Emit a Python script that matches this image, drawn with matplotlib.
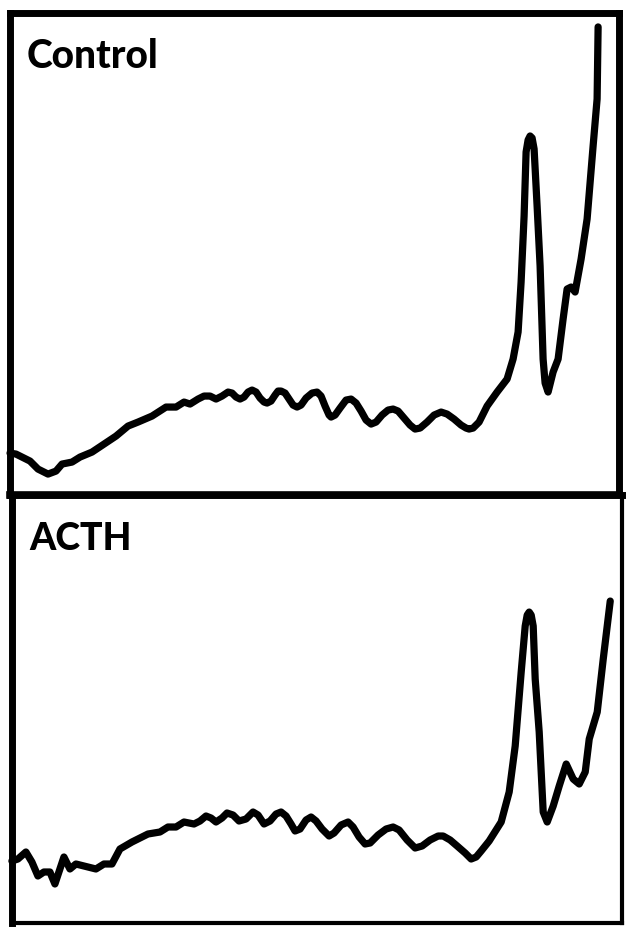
import numpy as np
import matplotlib
matplotlib.use("Agg")
import matplotlib.pyplot as plt

# x = position along the trace, y = height above panel floor
control_x = [0, 6, 20, 28, 38, 46, 52, 62, 70, 82, 94, 106, 118, 128, 142, 156,
             166, 174, 180, 188, 194, 200, 206, 212, 218, 222, 226, 230, 234, 238,
             242, 246, 250, 254, 257, 261, 265, 268, 271, 275, 279, 283, 287, 291,
             296, 302, 307, 311, 315, 319, 321, 325, 330, 336, 341, 346, 351, 356,
             361, 366, 372, 378, 383, 388, 394, 400, 405, 410, 417, 424, 431, 437,
             444, 451, 456, 459, 463, 469, 477, 487, 497, 503, 508, 511, 514, 516,
             518, 520, 522, 524, 527, 530, 533, 535, 538, 543, 548, 553, 557, 561,
             565, 571, 577, 583, 587, 588]
control_y = [42, 41, 34, 26, 21, 24, 31, 33, 38, 43, 51, 59, 69, 73, 79, 88,
             88, 93, 91, 96, 99, 99, 96, 99, 103, 102, 98, 96, 98, 103,
             105, 103, 97, 93, 92, 94, 100, 104, 104, 102, 96, 90, 88, 90,
             97, 102, 103, 99, 89, 80, 78, 80, 87, 95, 96, 92, 84, 75,
             71, 73, 80, 85, 86, 84, 77, 70, 66, 67, 73, 80, 83, 81,
             76, 70, 67, 66, 67, 73, 89, 103, 116, 136, 163, 213, 279, 343,
             355, 359, 357, 346, 289, 229, 136, 112, 103, 123, 136, 176, 206, 208,
             203, 236, 276, 349, 396, 468]

acth_x = [2, 8, 16, 22, 28, 34, 40, 45, 50, 54, 60, 66, 74, 86, 94, 102,
          110, 122, 138, 150, 158, 166, 174, 184, 190, 196, 201, 206, 212, 217,
          223, 229, 236, 243, 248, 254, 260, 266, 271, 276, 281, 285, 290, 296,
          301, 306, 312, 319, 324, 331, 338, 343, 349, 355, 360, 368, 376, 383,
          389, 397, 405, 412, 420, 428, 433, 440, 447, 455, 461, 466, 471, 479,
          491, 499, 505, 511, 515, 517, 519, 521, 523, 525, 529, 533, 537, 543,
          549, 556, 563, 569, 575, 579, 587, 593, 600]
acth_y = [62, 64, 71, 61, 47, 51, 51, 39, 54, 66, 54, 59, 57, 54, 59, 59,
          74, 81, 89, 91, 96, 96, 101, 99, 102, 107, 105, 101, 105, 110,
          108, 102, 104, 111, 108, 99, 102, 109, 111, 107, 99, 92, 94, 103,
          106, 102, 94, 87, 90, 98, 101, 96, 86, 79, 80, 88, 94, 96,
          93, 83, 75, 77, 83, 87, 87, 83, 77, 70, 64, 66, 72, 82,
          101, 131, 177, 251, 297, 308, 311, 308, 297, 244, 191, 111, 101, 117,
          137, 159, 144, 139, 151, 184, 211, 264, 322]

panels = [
    # label, xs, ys, axes rect, x range, y height, right/bottom spine width, font size
    ("Control", control_x, control_y, [0.016, 0.466, 0.973, 0.519], (0, 609), 482, 5.0, 28),
    ("ACTH", acth_x, acth_y, [0.019, 0.0054, 0.975, 0.4606], (2, 612), 428, 3.0, 27),
]

fig = plt.figure(figsize=(6.26, 9.29), dpi=100)
fig.patch.set_facecolor("white")

for label, xs, ys, rect, xr, h, thin, fs in panels:
    ax = fig.add_axes(rect)
    ax.plot(xs, ys, color="black", lw=5.2, solid_joinstyle="round",
            solid_capstyle="round", clip_on=False)
    ax.set_xlim(*xr)
    ax.set_ylim(0, h)
    ax.set_xticks([])
    ax.set_yticks([])
    for side in ["left", "top"]:
        ax.spines[side].set_linewidth(5.0)
    ax.spines["right"].set_linewidth(thin)
    ax.spines["bottom"].set_linewidth(thin)
    if label == "Control":
        ax.spines["bottom"].set_linewidth(5.5)
    ax.text(xr[0] + 17, h - 54, label, fontsize=fs, fontweight=900,
            family=["Lato", "DejaVu Sans"], va="baseline", ha="left")

fig.savefig("out.png", dpi=100, facecolor="white")
